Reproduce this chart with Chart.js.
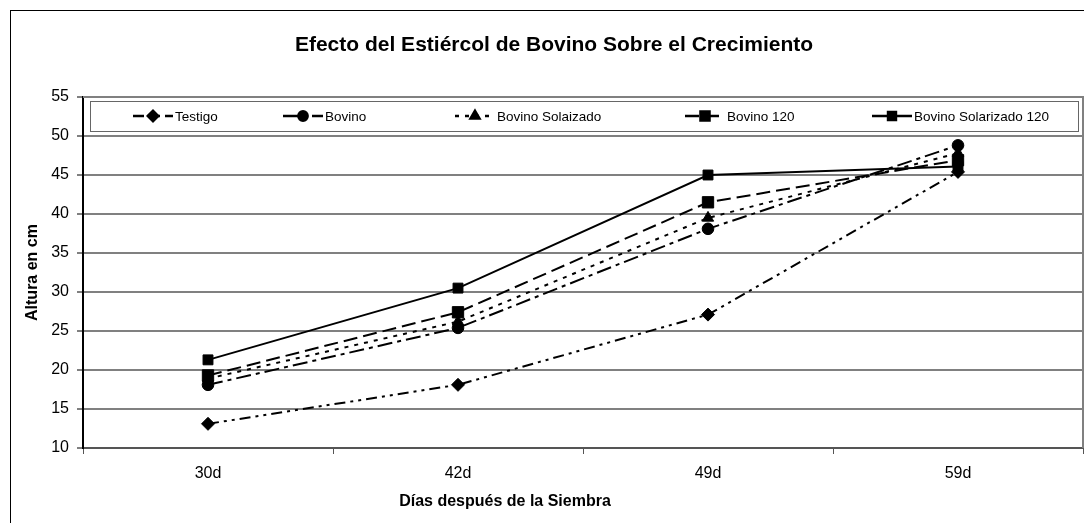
<!DOCTYPE html>
<html>
<head>
<meta charset="utf-8">
<script src="https://cdn.jsdelivr.net/npm/chart.js@4/dist/chart.umd.min.js"></script>
<style>
  html, body { margin: 0; padding: 0; background: #fff; }
  #wrap { width: 1084px; height: 523px; }
</style>
</head>
<body>
<div id="wrap"><canvas id="growthChart" width="1084" height="523"></canvas></div>
<script>
var days = ['30d', '42d', '49d', '59d'];

var testigo = [13.1, 18.1, 27.1, 45.4];
var bovino = [18.1, 25.4, 38.1, 48.8];
var bovinoSolaizado = [18.9, 26.2, 39.5, 47.8];
var bovino120 = [19.3, 27.4, 41.5, 46.9];
var bovinoSolarizado120 = [21.3, 30.5, 45.0, 46.1];

var yTicks = [10, 15, 20, 25, 30, 35, 40, 45, 50, 55];

var chartTitle = 'Efecto del Estiércol de Bovino Sobre el Crecimiento';
var xTitle = 'Días después de la Siembra';

var FONT = 'Arial, "Liberation Sans", sans-serif';

// white page, thin black frame, chart title and x axis caption
var framePlugin = {
    id: 'frame',
    beforeDraw: function (chart) {
        var ctx = chart.ctx;
        ctx.save();
        ctx.fillStyle = '#fff';
        ctx.fillRect(0, 0, chart.width, chart.height);
        ctx.strokeStyle = '#000';
        ctx.lineWidth = 1;
        ctx.strokeRect(10.5, 10.5, 1200, 700);
        ctx.fillStyle = '#000';
        ctx.textAlign = 'center';
        ctx.textBaseline = 'middle';
        ctx.font = 'bold 21px ' + FONT;
        ctx.fillText(chartTitle, 554, 45);
        ctx.font = 'bold 16px ' + FONT;
        ctx.fillText(xTitle, 505, 502);
        ctx.restore();
    },
    beforeDatasetsDraw: function (chart) {
        var a = chart.chartArea;
        var ctx = chart.ctx;
        ctx.save();
        ctx.strokeStyle = '#808080';
        ctx.lineWidth = 2;
        ctx.beginPath();
        ctx.moveTo(a.left, a.top);
        ctx.lineTo(a.right, a.top);
        ctx.lineTo(a.right, a.bottom);
        ctx.stroke();
        ctx.restore();
    }
};

// boxed legend sitting inside the top of the plot area
var boxLegend = {
    id: 'boxLegend',
    afterDraw: function (chart) {
        var ctx = chart.ctx;
        var itemX = [133, 283, 455, 685, 872];
        var top = 101, bottom = 131, left = 90, right = 1078;
        var cy = (top + bottom) / 2;
        ctx.save();
        ctx.fillStyle = '#fff';
        ctx.fillRect(left, top, right - left, bottom - top);
        ctx.strokeStyle = '#666';
        ctx.lineWidth = 1;
        ctx.strokeRect(left + 0.5, top + 0.5, right - left, bottom - top);
        chart.data.datasets.forEach(function (ds, i) {
            var x0 = itemX[i];
            ctx.strokeStyle = '#000';
            ctx.lineWidth = 2.5;
            ctx.setLineDash(ds.borderDash || []);
            ctx.beginPath();
            ctx.moveTo(x0, cy);
            ctx.lineTo(x0 + 40, cy);
            ctx.stroke();
            ctx.setLineDash([]);
            ctx.fillStyle = '#000';
            Chart.helpers.drawPoint(ctx, {
                pointStyle: ds.pointStyle,
                radius: ds.pointRadius * 0.8,
                borderWidth: 1,
                rotation: 0
            }, x0 + 20, cy);
            ctx.fill();
            ctx.fillStyle = '#000';
            ctx.font = '13.5px ' + FONT;
            ctx.textBaseline = 'middle';
            ctx.textAlign = 'left';
            ctx.fillText(ds.label, x0 + 42, cy + 1);
        });
        ctx.restore();
    }
};

function series(label, data, dash, style, radius) {
    return {
        label: label,
        data: data,
        borderColor: '#000',
        backgroundColor: '#000',
        borderWidth: 2,
        borderDash: dash,
        pointStyle: style,
        pointRadius: radius,
        pointBorderWidth: 1,
        pointBackgroundColor: '#000',
        pointBorderColor: '#000',
        tension: 0
    };
}

var ctx = document.getElementById('growthChart').getContext('2d');
var growthChart = new Chart(ctx, {
    type: 'line',
    data: {
        labels: days,
        datasets: [
            series('Testigo', testigo, [11, 5, 3, 5, 3, 5], 'rectRot', 6.5),
            series('Bovino', bovino, [15, 5, 4, 5], 'circle', 5.8),
            series('Bovino Solaizado', bovinoSolaizado, [4, 6], 'triangle', 6.5),
            series('Bovino 120', bovino120, [14, 6], 'rect', 8),
            series('Bovino Solarizado 120', bovinoSolarizado120, [], 'rect', 7)
        ]
    },
    options: {
        responsive: false,
        animation: false,
        layout: { autoPadding: false, padding: { top: 97, right: 1, bottom: 0, left: 0 } },
        plugins: {
            legend: { display: false },
            tooltip: { enabled: false },
            title: { display: false }
        },
        scales: {
            x: {
                offset: true,
                afterFit: function (scale) {
                    scale.height = 75;
                    scale.paddingLeft = 0;
                    scale.paddingRight = 0;
                },
                grid: {
                    offset: true,
                    drawOnChartArea: false,
                    tickLength: 6,
                    color: '#555',
                    lineWidth: 1
                },
                border: { color: '#555', width: 2 },
                ticks: {
                    color: '#000',
                    padding: 10,
                    font: { family: FONT, size: 16 }
                },
                title: { display: false }
            },
            y: {
                min: 10,
                max: 55,
                afterFit: function (scale) { scale.width = 83; },
                afterBuildTicks: function (scale) {
                    scale.ticks = yTicks.map(function (v) { return { value: v }; });
                },
                grid: {
                    color: '#808080',
                    lineWidth: 2,
                    tickLength: 6,
                    tickColor: '#000',
                    tickWidth: 1
                },
                border: { color: '#000', width: 2 },
                ticks: {
                    color: '#000',
                    padding: 8,
                    font: { family: FONT, size: 16 }
                },
                title: {
                    display: true,
                    text: 'Altura en cm',
                    color: '#000',
                    font: { family: FONT, size: 16, weight: 'bold' },
                    padding: { top: 23, bottom: 0 }
                }
            }
        }
    },
    plugins: [framePlugin, boxLegend]
});
</script>
</body>
</html>
